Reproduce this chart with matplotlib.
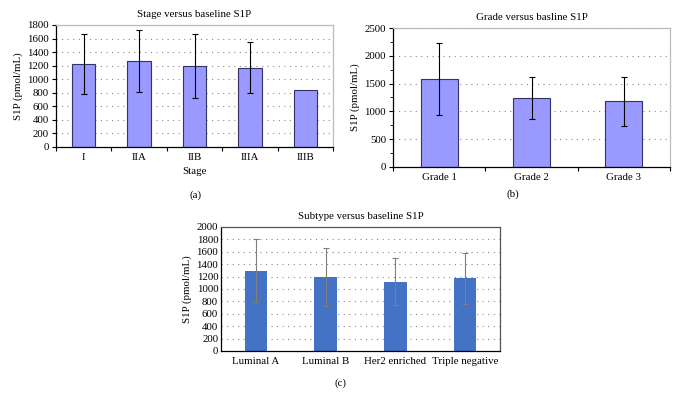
import matplotlib
matplotlib.use("Agg")
import matplotlib.pyplot as plt
import numpy as np
from matplotlib.ticker import MultipleLocator, FixedLocator

plt.rcParams['font.family'] = ['Liberation Serif', 'DejaVu Serif']

# Data
stages = ["I", "IIA", "IIB", "IIIA", "IIIB"]
stage_vals = [1222, 1272, 1198, 1170, 848]
stage_err = [440, 455, 475, 372, 0]

grades = ["Grade 1", "Grade 2", "Grade 3"]
grade_vals = [1578, 1235, 1180]
grade_err = [650, 377, 440]

subtypes = ["Luminal A", "Luminal B", "Her2 enriched", "Triple negative"]
subtype_vals = [1295, 1193, 1120, 1170]
subtype_err = [510, 465, 380, 418]

W, H = 677, 404
FS = 7.8
fig = plt.figure(figsize=(W / 100, H / 100), dpi=100)

def px_axes(l, t, r, b):
    return fig.add_axes([l / W, 1 - b / H, (r - l) / W, (b - t) / H])

def style(ax, n, ymax, major, minor=None, box='#bbbbbb'):
    ax.set_xlim(-0.5, n - 0.5)
    ax.set_ylim(0, ymax)
    ax.yaxis.set_major_locator(MultipleLocator(major))
    if minor:
        ax.yaxis.set_minor_locator(MultipleLocator(minor))
    ax.xaxis.set_minor_locator(FixedLocator(np.arange(-0.5, n, 1.0)))
    ax.tick_params(axis='x', which='major', length=0, labelsize=FS, pad=4)
    ax.tick_params(axis='x', which='minor', length=3, width=0.8, direction='out')
    ax.tick_params(axis='y', which='major', length=3, width=0.8, labelsize=FS, pad=2)
    ax.tick_params(axis='y', which='minor', length=2, width=0.6)
    for s in ['left', 'bottom']:
        ax.spines[s].set_color('black')
        ax.spines[s].set_linewidth(0.9)
    for s in ['top', 'right']:
        ax.spines[s].set_color(box)
        ax.spines[s].set_linewidth(0.9)
    ax.set_axisbelow(True)
    ax.yaxis.grid(True, linestyle=(0, (1, 4)), color='#888888', linewidth=0.8)

# Panel (a)
ax1 = px_axes(56, 25, 333, 147)
x1 = np.arange(len(stages))
ax1.bar(x1, stage_vals, width=0.42, color='#9999ff', edgecolor='#333366', linewidth=0.8, zorder=2)
ax1.errorbar(x1[:4], stage_vals[:4], yerr=stage_err[:4], fmt='none', ecolor='black',
             elinewidth=0.8, capsize=2, capthick=0.8, zorder=3)
ax1.set_xticks(x1)
ax1.set_xticklabels(stages)
style(ax1, len(stages), 1800, 200)
ax1.set_title("Stage versus baseline S1P", fontsize=FS, pad=6)
ax1.set_ylabel("S1P (pmol/mL)", fontsize=FS, labelpad=3)
ax1.set_xlabel("Stage", fontsize=FS, labelpad=4)
fig.text(195 / W, 1 - 195 / H, "(a)", ha='center', va='center', fontsize=FS)

# Panel (b)
ax2 = px_axes(393, 28, 670, 167)
x2 = np.arange(len(grades))
ax2.bar(x2, grade_vals, width=0.4, color='#9999ff', edgecolor='#333366', linewidth=0.8, zorder=2)
ax2.errorbar(x2, grade_vals, yerr=grade_err, fmt='none', ecolor='black',
             elinewidth=0.8, capsize=2, capthick=0.8, zorder=3)
ax2.set_xticks(x2)
ax2.set_xticklabels(grades)
style(ax2, len(grades), 2500, 500, minor=250)
ax2.set_title("Grade versus basline S1P", fontsize=FS, pad=6)
ax2.set_ylabel("S1P (pmol/mL)", fontsize=FS, labelpad=3)
fig.text(513 / W, 1 - 194 / H, "(b)", ha='center', va='center', fontsize=FS)

# Panel (c)
ax3 = px_axes(221, 227, 500, 351)
x3 = np.arange(len(subtypes))
ax3.bar(x3, subtype_vals, width=0.32, color='#4472c4', edgecolor='none', zorder=2)
ax3.errorbar(x3, subtype_vals, yerr=subtype_err, fmt='none', ecolor='#7f7f7f',
             elinewidth=0.8, capsize=2, capthick=0.8, zorder=3)
ax3.set_xticks(x3)
ax3.set_xticklabels(subtypes)
style(ax3, len(subtypes), 2000, 200, box='#555555')
ax3.tick_params(axis='x', which='minor', length=0)
ax3.tick_params(axis='y', which='major', length=0)
ax3.set_title("Subtype versus baseline S1P", fontsize=FS, pad=6)
ax3.set_ylabel("S1P (pmol/mL)", fontsize=FS, labelpad=3)
fig.text(340 / W, 1 - 383 / H, "(c)", ha='center', va='center', fontsize=FS)

fig.savefig("out.png", dpi=100)
